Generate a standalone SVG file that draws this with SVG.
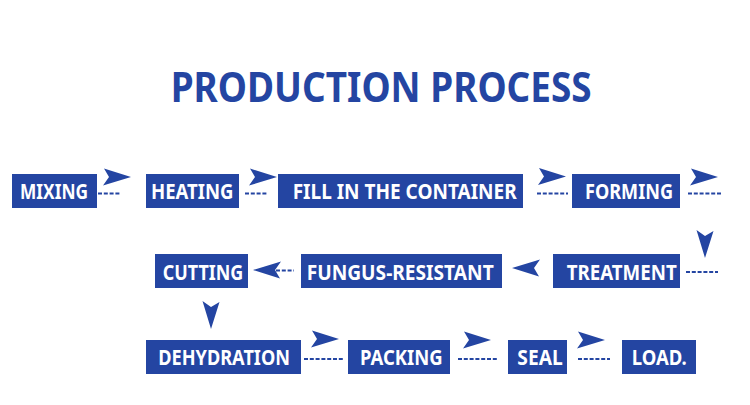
<svg xmlns="http://www.w3.org/2000/svg" width="750" height="405" viewBox="0 0 750 405">
<style>
.box{fill:#2445a2}
.lbl{fill:#ffffff;font-family:"Noto Sans","Liberation Sans",sans-serif;font-weight:bold;font-size:20.5px;text-anchor:start}
.title{fill:#2445a2;font-family:"Noto Sans","Liberation Sans",sans-serif;font-weight:bold;font-size:41px}
.dash{stroke:#2445a2;stroke-width:1.8;stroke-dasharray:4 1.8;fill:none}
.ah{fill:#2445a2}
</style>
<defs>
<path id="arrR" d="M0,-8.5 L27,0 L-1,8.5 L5,0 Z"/>
</defs>
<rect width="750" height="405" fill="#ffffff"/>
<text class="title" x="170.7" y="101.7" textLength="421" lengthAdjust="spacingAndGlyphs">PRODUCTION PROCESS</text>

<g id="n-mixing"><rect class="box" x="12" y="174" width="85" height="34"/><text class="lbl" x="20" y="199" textLength="68" lengthAdjust="spacingAndGlyphs">MIXING</text></g>
<g id="n-heating"><rect class="box" x="146" y="174" width="93" height="34"/><text class="lbl" x="151" y="199" textLength="82.5" lengthAdjust="spacingAndGlyphs">HEATING</text></g>
<g id="n-fill"><rect class="box" x="278" y="174" width="245" height="34"/><text class="lbl" x="292.7" y="199" textLength="224" lengthAdjust="spacingAndGlyphs">FILL IN THE CONTAINER</text></g>
<g id="n-forming"><rect class="box" x="572" y="174" width="108" height="34"/><text class="lbl" x="585" y="199" textLength="88" lengthAdjust="spacingAndGlyphs">FORMING</text></g>

<g id="n-treatment"><rect class="box" x="553" y="254" width="127" height="34"/><text class="lbl" x="566.7" y="280" textLength="110" lengthAdjust="spacingAndGlyphs">TREATMENT</text></g>
<g id="n-fungus"><rect class="box" x="301" y="254" width="201" height="34"/><text class="lbl" x="306.7" y="280" textLength="187" lengthAdjust="spacingAndGlyphs">FUNGUS-RESISTANT</text></g>
<g id="n-cutting"><rect class="box" x="155" y="254" width="93" height="34"/><text class="lbl" x="162.7" y="280" textLength="80.6" lengthAdjust="spacingAndGlyphs">CUTTING</text></g>

<g id="n-dehydration"><rect class="box" x="146" y="340" width="155" height="34"/><text class="lbl" x="158.3" y="365" textLength="131.7" lengthAdjust="spacingAndGlyphs">DEHYDRATION</text></g>
<g id="n-packing"><rect class="box" x="348" y="340" width="102" height="34"/><text class="lbl" x="360" y="365" textLength="82.7" lengthAdjust="spacingAndGlyphs">PACKING</text></g>
<g id="n-seal"><rect class="box" x="508" y="340" width="59" height="34"/><text class="lbl" x="517.3" y="365" textLength="45.4" lengthAdjust="spacingAndGlyphs">SEAL</text></g>
<g id="n-load"><rect class="box" x="622" y="340" width="74" height="34"/><text class="lbl" x="631.7" y="365" textLength="55" lengthAdjust="spacingAndGlyphs">LOAD.</text></g>

<g id="connectors">
<line class="dash" x1="98" y1="193.5" x2="121" y2="193.5"/>
<use href="#arrR" class="ah" transform="translate(104,177)"/>
<line class="dash" x1="245" y1="193.5" x2="268" y2="193.5"/>
<use href="#arrR" class="ah" transform="translate(250,177)"/>
<line class="dash" x1="537" y1="193.5" x2="568" y2="193.5"/>
<use href="#arrR" class="ah" transform="translate(539,176.5)"/>
<line class="dash" x1="688" y1="193.5" x2="722" y2="193.5"/>
<use href="#arrR" class="ah" transform="translate(691,177)"/>

<line class="dash" x1="686" y1="272" x2="718" y2="272"/>
<use href="#arrR" class="ah" transform="translate(705,231) rotate(90)"/>
<use href="#arrR" class="ah" transform="translate(539,268) rotate(180)"/>
<line class="dash" x1="276" y1="270.5" x2="294" y2="270.5"/>
<use href="#arrR" class="ah" transform="translate(280,270) rotate(180)"/>

<use href="#arrR" class="ah" transform="translate(211,302) rotate(90)"/>
<line class="dash" x1="304" y1="359" x2="343" y2="359"/>
<use href="#arrR" class="ah" transform="translate(312,339)"/>
<line class="dash" x1="458" y1="359" x2="497" y2="359"/>
<use href="#arrR" class="ah" transform="translate(464,340)"/>
<line class="dash" x1="578" y1="359" x2="610" y2="359"/>
<use href="#arrR" class="ah" transform="translate(578,340)"/>
</g>
</svg>
